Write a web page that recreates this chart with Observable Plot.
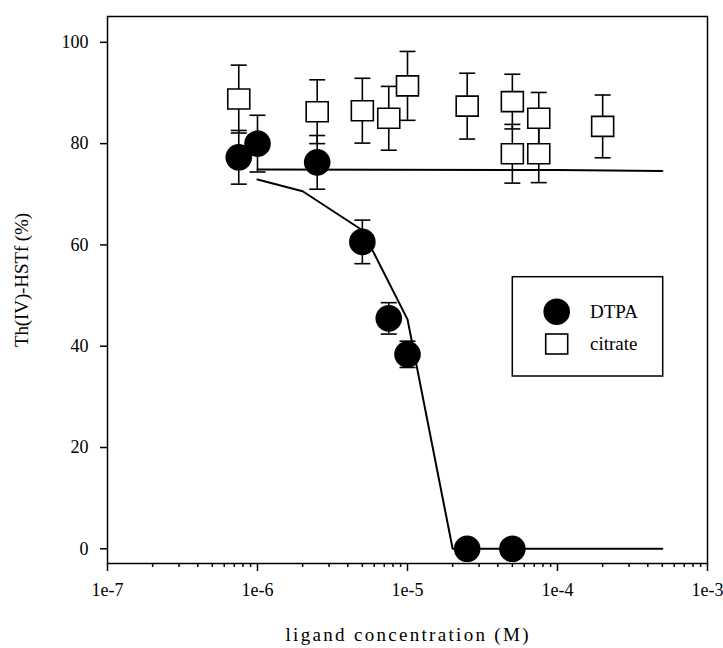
<!DOCTYPE html>
<html>
<head>
<meta charset="utf-8">
<script src="https://cdn.jsdelivr.net/npm/d3@7"></script>
<script src="https://cdn.jsdelivr.net/npm/@observablehq/plot@0.6"></script>
<style>
  html, body { margin: 0; padding: 0; background: white; }
  svg { display: block; }
  svg text { font-family: "Liberation Serif", "DejaVu Serif", serif !important; }
</style>
</head>
<body>
<div id="chart"></div>
<script>
// DTPA data (filled circles)
const dtpaX   = [7.5e-7, 1e-6, 2.5e-6, 5e-6, 7.5e-6, 1e-5, 2.5e-5, 5e-5];
const dtpaY   = [77.3, 80.0, 76.3, 60.6, 45.5, 38.4, 0, 0];
const dtpaErr = [5.3, 5.6, 5.3, 4.3, 3.1, 2.6, 0, 0];

// citrate data (open squares)
const citX   = [7.5e-7, 2.5e-6, 5e-6, 7.5e-6, 1e-5, 2.5e-5, 5e-5, 5e-5, 7.5e-5, 7.5e-5, 2e-4];
const citY   = [88.8, 86.3, 86.5, 85.0, 91.4, 87.4, 88.3, 78.0, 85.0, 78.0, 83.4];
const citErr = [6.7, 6.3, 6.4, 6.3, 6.8, 6.5, 5.4, 5.8, 5.1, 5.7, 6.2];

// fitted curves
const dtpaFitX = [1e-6, 2e-6, 5e-6, 1e-5, 2e-5, 5e-4];
const dtpaFitY = [72.9, 70.6, 62.9, 45.3, 0, 0];
const citFitX  = [1e-6, 1e-4, 5e-4];
const citFitY  = [74.9, 74.8, 74.6];

// axes
const xTicks = [1e-7, 1e-6, 1e-5, 1e-4, 1e-3];
const xTickLabels = ["1e-7", "1e-6", "1e-5", "1e-4", "1e-3"];
const yTicks = [0, 20, 40, 60, 80, 100];
const xLabel = "ligand concentration (M)";
const yLabel = "Th(IV)-HSTf (%)";
const legendLabels = ["DTPA", "citrate"];

const dtpa = dtpaX.map((x, i) => ({x, y: dtpaY[i], e: dtpaErr[i]}));
const cit = citX.map((x, i) => ({x, y: citY[i], e: citErr[i]}));
const dtpaFit = dtpaFitX.map((x, i) => ({x, y: dtpaFitY[i]}));
const citFit = citFitX.map((x, i) => ({x, y: citFitY[i]}));
const errAll = [...dtpa.filter(d => d.e > 0), ...cit];

const minorTicks = [];
for (let k = 0; k < xTicks.length - 1; k++) for (let m = 2; m <= 9; m++) minorTicks.push(xTicks[k] * m);

const capSymbol = {draw(ctx) { ctx.moveTo(-8, 0); ctx.lineTo(8, 0); }};
const squareSymbol = {draw(ctx) { ctx.moveTo(-11, -10); ctx.lineTo(11, -10); ctx.lineTo(11, 10); ctx.lineTo(-11, 10); ctx.closePath(); }};

const serif = "Liberation Serif, DejaVu Serif, serif";
const W = 723, H = 648;
const plot = Plot.plot({
  width: W, height: H,
  marginLeft: 107, marginRight: 16, marginTop: 16, marginBottom: 85,
  style: {fontFamily: serif, fontSize: "18px", background: "white", color: "black", overflow: "visible"},
  x: {type: "log", domain: [1e-7, 1e-3], label: null},
  y: {domain: [-2.9, 105.1], label: null},
  marks: [
    Plot.axisX({ticks: minorTicks, tickSize: 4, strokeWidth: 1.5, tickFormat: () => ""}),
    Plot.axisX({ticks: xTicks, tickSize: 8, tickPadding: 12, strokeWidth: 1.5, tickFormat: (d) => xTickLabels[xTicks.indexOf(d)], fontSize: 18}),
    Plot.axisY({ticks: yTicks, tickSize: 7, tickPadding: 12, strokeWidth: 1.5, fontSize: 18}),
    Plot.line(citFit, {x: "x", y: "y", stroke: "black", strokeWidth: 2}),
    Plot.line(dtpaFit, {x: "x", y: "y", stroke: "black", strokeWidth: 2}),
    Plot.ruleX(errAll, {x: "x", y1: d => d.y - d.e, y2: d => d.y + d.e, stroke: "black", strokeWidth: 1.6}),
    Plot.dot(errAll, {x: "x", y: d => d.y - d.e, symbol: capSymbol, stroke: "black", strokeWidth: 1.6, fill: "none", r: 8}),
    Plot.dot(errAll, {x: "x", y: d => d.y + d.e, symbol: capSymbol, stroke: "black", strokeWidth: 1.6, fill: "none", r: 8}),
    Plot.dot(dtpa, {x: "x", y: "y", r: 13.3, fill: "black", stroke: "none"}),
    Plot.dot(cit, {x: "x", y: "y", symbol: squareSymbol, r: 11, fill: "white", stroke: "black", strokeWidth: 1.6}),
    Plot.frame({stroke: "black", strokeWidth: 1.5})
  ]
});

const ns = "http://www.w3.org/2000/svg";
function el(tag, attrs, text) {
  const e = document.createElementNS(ns, tag);
  for (const k in attrs) e.setAttribute(k, attrs[k]);
  if (text != null) e.textContent = text;
  plot.appendChild(e);
  return e;
}
// axis titles
el("text", {x: 407, y: 641, "text-anchor": "middle", "font-family": serif, "font-size": 19, textLength: 243, lengthAdjust: "spacing", fill: "black"}, xLabel);
el("text", {transform: "translate(28,280) rotate(-90)", "text-anchor": "middle", "font-family": serif, "font-size": 19, textLength: 134, lengthAdjust: "spacing", fill: "black"}, yLabel);
// legend
el("rect", {x: 512.3, y: 276.7, width: 150.4, height: 99.3, fill: "white", stroke: "black", "stroke-width": 1.5});
el("circle", {cx: 556.7, cy: 311.7, r: 13.3, fill: "black"});
el("text", {x: 590, y: 318, "text-anchor": "start", "font-family": serif, "font-size": 19, fill: "black"}, legendLabels[0]);
el("rect", {x: 545.7, y: 334, width: 22, height: 20, fill: "white", stroke: "black", "stroke-width": 1.6});
el("text", {x: 590, y: 350, "text-anchor": "start", "font-family": serif, "font-size": 19, fill: "black"}, legendLabels[1]);

document.getElementById("chart").appendChild(plot);
</script>
</body>
</html>
